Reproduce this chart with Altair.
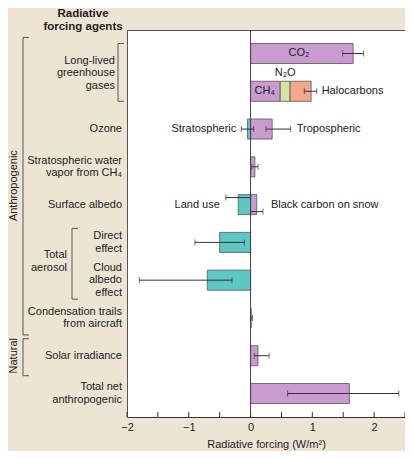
import altair as alt
import pandas as pd

FONT = "Liberation Sans"
TXT = "#222222"
LH = 12.5

# ---- rows (top to bottom)
rows = ["CO2", "CH4grp", "Ozone", "StratH2O", "Albedo", "Direct", "Cloud",
        "Contrails", "Solar", "Total"]
row_labels = ["", "", "Ozone", "Stratospheric water\nvapor from CH\u2084",
              "Surface albedo", "Direct\neffect", "Cloud\nalbedo\neffect",
              "Condensation trails\nfrom aircraft", "Solar irradiance",
              "Total net\nanthropogenic"]

# ---- bar components (W/m2)
bar_row = ["CO2", "CH4grp", "CH4grp", "CH4grp", "Ozone", "Ozone", "StratH2O",
           "Albedo", "Albedo", "Direct", "Cloud", "Contrails", "Solar", "Total"]
bar_name = ["CO2", "CH4", "N2O", "Halocarbons", "Stratospheric", "Tropospheric",
            "Strat H2O", "Land use", "Black carbon on snow", "Direct",
            "Cloud albedo", "Contrails", "Solar", "Total net"]
bar_value = [1.66, 0.48, 0.16, 0.34, -0.05, 0.35, 0.07, -0.20, 0.10, -0.50,
             -0.70, 0.01, 0.12, 1.60]
bar_kind = ["warm", "warm", "n2o", "halo", "cool", "warm", "warm", "cool",
            "warm", "cool", "cool", "warm", "warm", "warm"]

# ---- uncertainty ranges
err_row = ["CO2", "CH4grp", "Ozone", "Ozone", "StratH2O", "Albedo", "Albedo",
           "Direct", "Cloud", "Contrails", "Solar", "Total"]
err_low = [1.49, 0.87, -0.15, 0.25, 0.02, -0.40, 0.00, -0.90, -1.80, 0.003,
           0.06, 0.60]
err_high = [1.83, 1.07, 0.05, 0.65, 0.12, 0.00, 0.20, -0.10, -0.30, 0.03,
            0.30, 2.40]
err_slot = ["mid", "mid", "mid", "mid", "mid", "top", "bottom", "mid", "mid",
            "mid", "mid", "mid"]

tick_values = [-2, -1.5, -1, -0.5, 0, 0.5, 1, 1.5, 2, 2.5]
kinds = ["warm", "cool", "n2o", "halo"]
kind_colors = ["#c99bcf", "#5ec6c3", "#d5e4a3", "#f5a98c"]

# stacked starts/ends
pos_acc, neg_acc = {}, {}
starts, ends = [], []
for r, v in zip(bar_row, bar_value):
    if v >= 0:
        s = pos_acc.get(r, 0.0)
        pos_acc[r] = s + v
    else:
        s = neg_acc.get(r, 0.0)
        neg_acc[r] = s + v
    starts.append(s)
    ends.append(s + v)
bars = pd.DataFrame({"row": bar_row, "name": bar_name, "start": starts,
                     "end": ends, "kind": bar_kind})
errs = pd.DataFrame({"row": err_row, "lo": err_low, "hi": err_high,
                     "slot": err_slot})

W, H = 278, 387
xscale = alt.Scale(domain=[-2, 2.5], nice=False, zero=False)
yscale = alt.Scale(domain=rows, paddingInner=0.47, paddingOuter=0.357)


def Y(field="row"):
    return alt.Y(f"{field}:N", scale=yscale, axis=None, sort=rows)


def Yd(value):
    return alt.Y(datum=value, type="nominal", scale=yscale, axis=None)


def center_dy(text, lh=LH):
    return -(text.count("\n")) * lh / 2


label_expr = ("datum.value % 1 == 0 ? replace(format(datum.value, 'd'), '-', '\u2212') : ''")

base_x = alt.X("start:Q", scale=xscale,
               axis=alt.Axis(values=tick_values, ticks=False, grid=False,
                             labelExpr=label_expr, title="Radiative forcing (W/m\u00b2)",
                             labelFont=FONT, titleFont=FONT, labelFontSize=11,
                             titleFontSize=11, titleFontWeight="normal",
                             labelColor=TXT, titleColor=TXT, domainColor="#333333",
                             labelPadding=4, titlePadding=6, labelFlush=False))

bar_layer = alt.Chart(bars).mark_bar(stroke="#555555", strokeWidth=0.8).encode(
    x=base_x, x2="end:Q", y=Y(),
    color=alt.Color("kind:N", scale=alt.Scale(domain=kinds, range=kind_colors),
                    legend=None))

zero = alt.Chart(pd.DataFrame({"z": [0]})).mark_rule(
    color="#444444", strokeWidth=1).encode(x=alt.X("z:Q", scale=xscale))

inticks = alt.Chart(pd.DataFrame({"t": tick_values})).mark_rule(
    color="#333333").encode(x=alt.X("t:Q", scale=xscale),
                            y=alt.value(H - 5), y2=alt.value(H))

err_layers = []
for slot, off in [("mid", 0), ("top", -7), ("bottom", 7)]:
    src = alt.Chart(errs).transform_filter(alt.datum.slot == slot)
    err_layers.append(src.mark_rule(color="#333333", strokeWidth=1, yOffset=off).encode(
        x=alt.X("lo:Q", scale=xscale), x2="hi:Q", y=Y()))
    for f in ["lo", "hi"]:
        err_layers.append(src.mark_tick(color="#333333", thickness=1, size=6,
                                        yOffset=off).encode(
            x=alt.X(f"{f}:Q", scale=xscale), y=Y()))

# ---- annotations inside the plot
ann = pd.DataFrame([
    {"t": "CO\u2082", "row": "CO2", "x": (starts[0] + ends[0]) / 2, "al": "center", "dx": -3, "dy": 0},
    {"t": "CH\u2084", "row": "CH4grp", "x": starts[1], "al": "left", "dx": 4, "dy": 0},
    {"t": "N\u2082O", "row": "CH4grp", "x": (starts[2] + ends[2]) / 2, "al": "center", "dx": 0, "dy": -18},
    {"t": "Halocarbons", "row": "CH4grp", "x": err_high[1], "al": "left", "dx": 5, "dy": 0},
    {"t": "Stratospheric", "row": "Ozone", "x": err_low[2], "al": "right", "dx": -5, "dy": 0},
    {"t": "Tropospheric", "row": "Ozone", "x": err_high[3], "al": "left", "dx": 6, "dy": 0},
    {"t": "Land use", "row": "Albedo", "x": err_low[5], "al": "right", "dx": -6, "dy": 0},
    {"t": "Black carbon on snow", "row": "Albedo", "x": err_high[6], "al": "left", "dx": 8, "dy": 0},
])
ann_layers = []
for al in ["left", "center", "right"]:
    for dy in sorted(set(ann["dy"])):
        sub = ann[(ann["al"] == al) & (ann["dy"] == dy)]
        if len(sub) == 0:
            continue
        for dx in sorted(set(sub["dx"])):
            s2 = sub[sub["dx"] == dx]
            ann_layers.append(alt.Chart(s2).mark_text(
                align=al, baseline="middle", font=FONT, fontSize=11, color=TXT,
                dx=int(dx), dy=int(dy)).encode(
                x=alt.X("x:Q", scale=xscale), y=Y(), text="t:N"))

# ---- left-side labels (grouped by number of lines so each block is centred)
lab = pd.DataFrame({"row": rows, "label": row_labels})
lab["n"] = lab["label"].str.count("\n")
left_layers = []
for n in sorted(set(lab["n"])):
    left_layers.append(alt.Chart(lab[lab["n"] == n]).mark_text(
        align="right", baseline="middle", font=FONT, fontSize=11, color=TXT,
        lineBreak="\n", lineHeight=LH, dy=-n * LH / 2).encode(
        x=alt.value(-5), y=Y(), text="label:N"))

one = pd.DataFrame({"a": [0]})
ll_text = "Long-lived\ngreenhouse\ngases"
longlived = alt.Chart(one).mark_text(
    align="right", baseline="middle", font=FONT, fontSize=11, color=TXT,
    lineBreak="\n", lineHeight=LH, yOffset=20, dy=center_dy(ll_text)).encode(
    x=alt.value(-12), y=Yd("CO2"), text=alt.value(ll_text))
ae_text = "Total\naerosol"
aerosol = alt.Chart(one).mark_text(
    align="right", baseline="middle", font=FONT, fontSize=11, color=TXT,
    lineBreak="\n", lineHeight=LH, yOffset=19, dy=center_dy(ae_text)).encode(
    x=alt.value(-60), y=Yd("Direct"), text=alt.value(ae_text))
anthro = alt.Chart(one).mark_text(
    align="center", baseline="middle", font=FONT, fontSize=11, color=TXT,
    angle=270, yOffset=-19).encode(x=alt.value(-113), y=Yd("Albedo"),
                                   text=alt.value("Anthropogenic"))
natural = alt.Chart(one).mark_text(
    align="center", baseline="middle", font=FONT, fontSize=11, color=TXT,
    angle=270, yOffset=0).encode(x=alt.value(-113), y=Yd("Solar"),
                                 text=alt.value("Natural"))
title = alt.Chart(one).mark_text(
    align="center", baseline="middle", font=FONT, fontSize=11.5, fontWeight="bold",
    color=TXT, lineBreak="\n", lineHeight=12.5).encode(
    x=alt.value(-44), y=alt.value(-16), text=alt.value("Radiative\nforcing agents"))

# ---- brackets: (x, top row, top offset, bottom row, bottom offset)
brackets = [(-9, "CO2", -10, "CH4grp", 10),
            (-104, "CO2", -16, "Contrails", 17),
            (-55, "Direct", -14, "Cloud", 19),
            (-104, "Solar", -17, "Solar", 20)]
br_layers = []
for bx, tr, to, brr, bo in brackets:
    br_layers.append(alt.Chart(one).mark_rule(
        color="#555555", strokeWidth=1, yOffset=to, y2Offset=bo).encode(
        x=alt.value(bx), y=Yd(tr), y2=alt.Y2(datum=brr)))
    br_layers.append(alt.Chart(one).mark_rule(
        color="#555555", strokeWidth=1, yOffset=to).encode(
        x=alt.value(bx), x2=alt.value(bx + 6), y=Yd(tr)))
    br_layers.append(alt.Chart(one).mark_rule(
        color="#555555", strokeWidth=1, yOffset=bo).encode(
        x=alt.value(bx), x2=alt.value(bx + 6), y=Yd(brr)))

chart = alt.layer(
    bar_layer, zero, inticks, *err_layers, *ann_layers, *left_layers, longlived,
    aerosol, anthro, natural, title, *br_layers
).properties(
    width=W, height=H,
    autosize=alt.AutoSizeParams(type="none"),
    padding={"left": 119, "top": 22, "right": 0, "bottom": 34},
    background="#eee4d4",
).configure_view(stroke="#555555", fill="white")

chart.save("out.html", embed_options={"renderer": "svg", "actions": False})
